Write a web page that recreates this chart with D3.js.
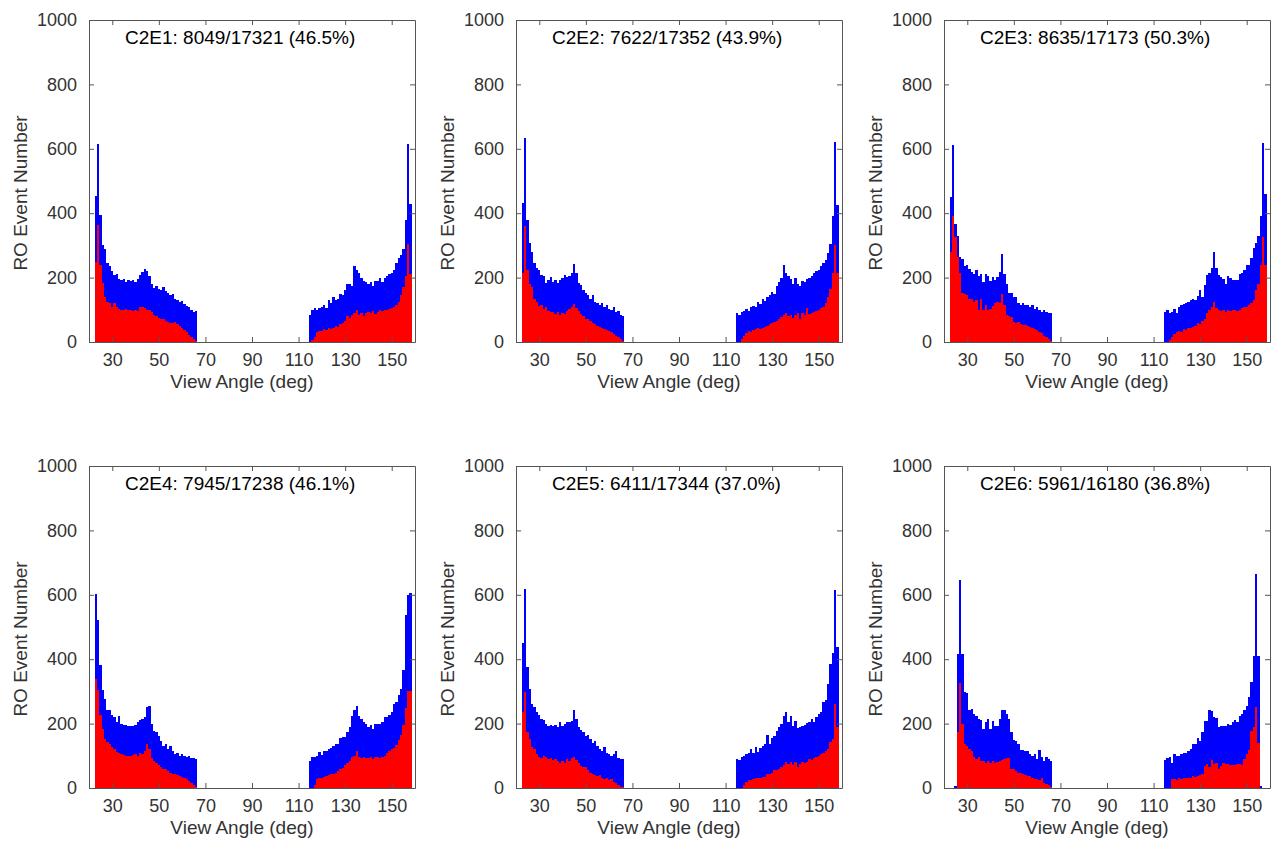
<!DOCTYPE html>
<html>
<head>
<meta charset="utf-8">
<script src="https://cdn.jsdelivr.net/npm/d3@7"></script>
<style>
  body { margin: 0; background: #fff; }
  svg text { font-family: "Liberation Sans", Arial, sans-serif; }
</style>
</head>
<body>
<div id="chart"></div>
<script>
// bin centres (deg), 1-degree bins
const leftAngles = [23, 24, 25, 26, 27, 28, 29, 30, 31, 32, 33, 34, 35, 36, 37, 38, 39, 40, 41, 42, 43, 44,
  45, 46, 47, 48, 49, 50, 51, 52, 53, 54, 55, 56, 57, 58, 59, 60, 61, 62, 63, 64, 65, 66]
const rightAngles = [115, 116, 117, 118, 119, 120, 121, 122, 123, 124, 125, 126, 127, 128, 129, 130, 131, 132,
  133, 134, 135, 136, 137, 138, 139, 140, 141, 142, 143, 144, 145, 146, 147, 148, 149, 150, 151, 152, 153, 154,
  155, 156, 157, 158]

const xTicks = [30, 50, 70, 90, 110, 130, 150]
const yTicks = [0, 200, 400, 600, 800, 1000]

const titles = [
  "C2E1: 8049/17321 (46.5%)",
  "C2E2: 7622/17352 (43.9%)",
  "C2E3: 8635/17173 (50.3%)",
  "C2E4: 7945/17238 (46.1%)",
  "C2E5: 6411/17344 (37.0%)",
  "C2E6: 5961/16180 (36.8%)"
]

// blue = all RO events, red = subset
const c2e1AllLeft = [453, 614, 393, 302, 289, 245, 235, 219, 209, 211, 195, 193, 195, 185, 193, 188, 193, 186, 195, 209,
  216, 226, 222, 206, 181, 167, 174, 165, 160, 170, 158, 152, 145, 148, 135, 130, 125, 128, 118, 112, 108, 100, 93, 97]
const c2e1SubLeft = [250, 363, 239, 182, 141, 125, 120, 110, 120, 110, 104, 99, 100, 102, 100, 98, 95, 100, 97, 110,
  108, 105, 100, 98, 92, 85, 80, 75, 72, 70, 65, 62, 60, 58, 62, 55, 50, 45, 38, 30, 22, 15, 8, 3]
const c2e1AllRight = [85, 100, 105, 100, 105, 110, 115, 105, 130, 120, 140, 130, 135, 150, 145, 160, 180, 180, 175, 235,
  225, 215, 200, 190, 185, 180, 185, 175, 190, 190, 200, 185, 200, 205, 210, 215, 225, 245, 260, 270, 290, 380, 615, 430]
const c2e1SubRight = [0, 5, 15, 30, 35, 35, 40, 38, 42, 40, 45, 50, 48, 55, 60, 65, 80, 75, 85, 90,
  100, 85, 90, 80, 90, 92, 90, 95, 88, 92, 100, 95, 100, 98, 102, 105, 110, 115, 125, 145, 170, 205, 305, 210]

const c2e2AllLeft = [432, 635, 379, 306, 280, 244, 229, 223, 208, 206, 182, 192, 203, 187, 194, 182, 192, 198, 208, 203,
  205, 215, 241, 213, 182, 177, 163, 151, 146, 135, 146, 125, 120, 115, 122, 110, 115, 104, 99, 110, 94, 96, 85, 82]
const c2e2SubLeft = [213, 360, 223, 180, 170, 135, 125, 112, 115, 104, 110, 95, 94, 92, 88, 92, 84, 90, 88, 96,
  104, 110, 118, 105, 96, 88, 80, 72, 70, 65, 60, 55, 50, 48, 45, 40, 38, 35, 30, 25, 20, 14, 8, 4]
const c2e2AllRight = [89, 85, 92, 95, 102, 95, 108, 112, 110, 125, 118, 132, 128, 140, 145, 155, 150, 175, 185, 200,
  238, 215, 205, 195, 180, 200, 180, 175, 190, 185, 195, 200, 205, 215, 220, 225, 235, 245, 255, 275, 305, 391, 622, 425]
const c2e2SubRight = [0, 0, 8, 20, 28, 35, 30, 38, 40, 42, 40, 45, 48, 50, 55, 58, 62, 65, 72, 78,
  85, 90, 80, 85, 75, 85, 90, 70, 90, 85, 105, 88, 90, 92, 95, 98, 105, 110, 120, 140, 165, 215, 300, 215]

const c2e3AllLeft = [451, 611, 366, 329, 265, 257, 236, 239, 226, 218, 211, 223, 205, 211, 187, 211, 205, 190, 203, 194,
  203, 218, 273, 211, 180, 153, 151, 141, 141, 122, 115, 122, 115, 115, 110, 115, 101, 110, 99, 94, 99, 94, 91, 89]
const c2e3SubLeft = [280, 391, 327, 265, 213, 153, 149, 146, 135, 135, 125, 130, 99, 135, 99, 115, 99, 104, 112, 120,
  125, 120, 149, 115, 84, 81, 79, 63, 60, 63, 56, 53, 53, 50, 48, 42, 39, 37, 32, 27, 19, 14, 8, 4]
const c2e3AllRight = [94, 99, 91, 94, 101, 89, 110, 115, 118, 120, 125, 130, 135, 130, 143, 161, 141, 177, 208, 215,
  229, 280, 229, 208, 203, 196, 180, 205, 198, 194, 192, 194, 211, 213, 225, 239, 239, 260, 291, 306, 330, 391, 619, 461]
const c2e3SubRight = [0, 0, 5, 15, 25, 30, 35, 32, 40, 38, 42, 45, 48, 50, 60, 55, 65, 70, 90, 100,
  110, 125, 105, 100, 95, 100, 92, 100, 95, 98, 100, 95, 100, 105, 108, 110, 115, 120, 130, 160, 180, 240, 325, 240]

const c2e4AllLeft = [602, 522, 381, 303, 277, 241, 243, 227, 220, 204, 225, 199, 196, 197, 191, 192, 194, 197, 204, 210,
  215, 220, 251, 256, 199, 178, 173, 162, 147, 131, 136, 121, 131, 116, 105, 110, 100, 105, 100, 95, 100, 92, 92, 90]
const c2e4SubLeft = [338, 303, 227, 183, 152, 142, 136, 126, 121, 112, 110, 105, 102, 98, 100, 100, 102, 105, 100, 108,
  105, 116, 136, 121, 92, 84, 79, 71, 64, 60, 58, 53, 48, 43, 42, 40, 38, 35, 32, 27, 22, 17, 8, 4]
const c2e4AllRight = [84, 95, 95, 100, 112, 102, 116, 116, 121, 123, 129, 136, 136, 154, 157, 157, 173, 189, 225, 241,
  256, 225, 215, 204, 199, 189, 196, 183, 199, 199, 199, 204, 220, 220, 228, 235, 261, 267, 290, 308, 366, 538, 600, 605]
const c2e4SubRight = [0, 0, 8, 28, 30, 32, 35, 38, 40, 42, 45, 48, 52, 58, 62, 70, 78, 85, 95, 100,
  116, 95, 92, 95, 93, 92, 95, 90, 95, 96, 92, 95, 100, 110, 115, 120, 125, 135, 150, 165, 195, 250, 300, 300]

const c2e5AllLeft = [449, 619, 376, 308, 261, 251, 235, 227, 215, 212, 199, 194, 196, 192, 196, 189, 204, 192, 199, 204,
  204, 209, 241, 215, 189, 181, 173, 162, 165, 152, 140, 147, 129, 121, 116, 126, 110, 105, 100, 105, 116, 92, 90, 90]
const c2e5SubLeft = [235, 298, 173, 152, 126, 121, 105, 95, 92, 100, 95, 90, 92, 86, 90, 84, 79, 84, 79, 90,
  84, 92, 95, 88, 79, 69, 64, 64, 56, 48, 43, 40, 37, 40, 32, 27, 32, 25, 29, 19, 17, 8, 4, 2]
const c2e5AllRight = [89, 87, 95, 98, 105, 108, 121, 110, 126, 112, 123, 131, 136, 165, 136, 154, 162, 178, 189, 199,
  225, 235, 204, 225, 194, 209, 185, 189, 194, 196, 202, 204, 215, 206, 220, 230, 235, 267, 272, 324, 386, 420, 616, 438]
const c2e5SubRight = [0, 0, 0, 10, 20, 25, 25, 28, 30, 32, 30, 35, 33, 45, 42, 48, 55, 55, 60, 65,
  70, 80, 75, 82, 70, 82, 65, 75, 80, 78, 82, 90, 88, 92, 95, 100, 105, 110, 115, 121, 142, 152, 261, 189]

const c2e6AllLeft = [0, 0, 6, 415, 647, 415, 298, 296, 241, 246, 230, 225, 215, 212, 183, 204, 215, 183, 209, 194,
  194, 215, 241, 241, 230, 215, 175, 150, 146, 136, 119, 119, 116, 116, 105, 100, 105, 89, 119, 95, 84, 95, 89, 84]
const c2e6SubLeft = [0, 0, 0, 175, 327, 199, 136, 131, 121, 116, 95, 90, 95, 84, 84, 79, 84, 77, 84, 79,
  81, 84, 88, 90, 92, 92, 60, 58, 53, 48, 46, 43, 40, 37, 37, 32, 27, 29, 25, 32, 17, 11, 8, 4]
const c2e6AllRight = [87, 92, 95, 77, 105, 100, 100, 105, 110, 108, 116, 121, 136, 136, 154, 146, 173, 209, 209, 241,
  238, 219, 216, 189, 194, 192, 194, 199, 196, 206, 212, 204, 225, 230, 241, 256, 282, 330, 409, 665, 409, 5, 0, 0]
const c2e6SubRight = [0, 0, 0, 27, 29, 25, 32, 29, 32, 32, 32, 32, 37, 35, 37, 40, 43, 69, 74, 64,
  88, 74, 77, 58, 69, 77, 74, 74, 71, 71, 71, 74, 74, 71, 90, 105, 118, 178, 190, 253, 140, 0, 0, 0]

const panels = [
  { all: c2e1AllLeft.concat(c2e1AllRight), sub: c2e1SubLeft.concat(c2e1SubRight) },
  { all: c2e2AllLeft.concat(c2e2AllRight), sub: c2e2SubLeft.concat(c2e2SubRight) },
  { all: c2e3AllLeft.concat(c2e3AllRight), sub: c2e3SubLeft.concat(c2e3SubRight) },
  { all: c2e4AllLeft.concat(c2e4AllRight), sub: c2e4SubLeft.concat(c2e4SubRight) },
  { all: c2e5AllLeft.concat(c2e5AllRight), sub: c2e5SubLeft.concat(c2e5SubRight) },
  { all: c2e6AllLeft.concat(c2e6AllRight), sub: c2e6SubLeft.concat(c2e6SubRight) }
]
const angles = leftAngles.concat(rightAngles)

const width = 1271
const height = 841
const w = 326
const h = 322
const lefts = [89, 516, 944]
const tops = [20, 466]
const axisColor = "#555"
const textColor = "#333"

const svg = d3.select("#chart")
  .append("svg")
  .attr("width", width)
  .attr("height", height)

const x = d3.scaleLinear().domain([20, 160]).range([0, w])
const y = d3.scaleLinear().domain([0, 1000]).range([h, 0])

const styleAxis = (sel) => {
  sel.attr("font-size", 18).attr("font-family", '"Liberation Sans", Arial, sans-serif')
  sel.selectAll("path, line").attr("stroke", axisColor)
  sel.selectAll("text").attr("fill", textColor)
}

panels.forEach((p, i) => {
  const g = svg.append("g")
    .attr("transform", `translate(${lefts[i % 3]},${tops[Math.floor(i / 3)]})`)

  const rows = angles.map((a, k) => ({ angle: a, all: p.all[k], sub: p.sub[k] }))

  g.selectAll("rect.all")
    .data(rows)
    .enter()
    .append("rect")
    .attr("class", "all")
    .attr("x", d => x(d.angle - 0.5))
    .attr("width", d => x(d.angle + 0.5) - x(d.angle - 0.5))
    .attr("y", d => y(d.all))
    .attr("height", d => h - y(d.all))
    .attr("fill", "#0000ff")
    .attr("shape-rendering", "crispEdges")

  g.selectAll("rect.sub")
    .data(rows)
    .enter()
    .append("rect")
    .attr("class", "sub")
    .attr("x", d => x(d.angle - 0.5))
    .attr("width", d => x(d.angle + 0.5) - x(d.angle - 0.5))
    .attr("y", d => y(d.sub))
    .attr("height", d => h - y(d.sub))
    .attr("fill", "#ff0000")
    .attr("shape-rendering", "crispEdges")

  // box with inward ticks
  g.append("g")
    .attr("transform", `translate(0,${h})`)
    .call(d3.axisBottom(x).tickValues(xTicks).tickSize(-5).tickSizeOuter(0).tickPadding(11))
    .call(styleAxis)
  g.append("g")
    .call(d3.axisTop(x).tickValues(xTicks).tickSize(-5).tickSizeOuter(0).tickFormat(""))
    .call(styleAxis)
  g.append("g")
    .call(d3.axisLeft(y).tickValues(yTicks).tickSize(-5).tickSizeOuter(0).tickPadding(12)
      .tickFormat(d3.format("d")))
    .call(styleAxis)
  g.append("g")
    .attr("transform", `translate(${w},0)`)
    .call(d3.axisRight(y).tickValues(yTicks).tickSize(-5).tickSizeOuter(0).tickFormat(""))
    .call(styleAxis)

  g.append("text")
    .attr("x", 36)
    .attr("y", 23.5)
    .attr("font-size", 19)
    .attr("fill", "#000")
    .text(titles[i])

  g.append("text")
    .attr("x", w / 2 - 10)
    .attr("y", h + 46)
    .attr("text-anchor", "middle")
    .attr("font-size", 19)
    .attr("fill", textColor)
    .text("View Angle (deg)")

  g.append("text")
    .attr("transform", `translate(-62,${h / 2 + 12}) rotate(-90)`)
    .attr("text-anchor", "middle")
    .attr("font-size", 19)
    .attr("fill", textColor)
    .text("RO Event Number")
})
</script>
</body>
</html>
